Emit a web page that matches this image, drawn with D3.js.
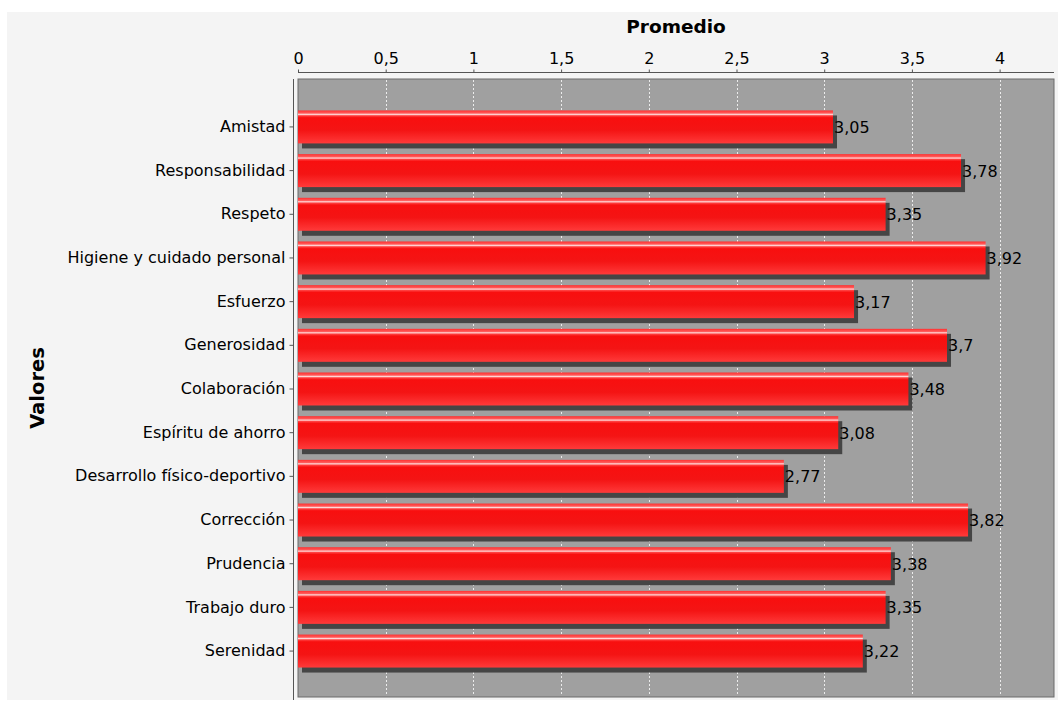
<!DOCTYPE html>
<html><head><meta charset="utf-8">
<script src="https://cdn.jsdelivr.net/npm/d3@7"></script>
<style>html,body{margin:0;padding:0;background:#fff;}</style>
</head><body>
<script>
const categories = ["Amistad","Responsabilidad","Respeto","Higiene y cuidado personal","Esfuerzo","Generosidad","Colaboración","Espíritu de ahorro","Desarrollo físico-deportivo","Corrección","Prudencia","Trabajo duro","Serenidad"];
const values = [3.05,3.78,3.35,3.92,3.17,3.7,3.48,3.08,2.77,3.82,3.38,3.35,3.22];
const labels = ["3,05","3,78","3,35","3,92","3,17","3,7","3,48","3,08","2,77","3,82","3,38","3,35","3,22"];
const xTicks = [0,0.5,1,1.5,2,2.5,3,3.5,4];
const xTickLabels = ["0","0,5","1","1,5","2","2,5","3","3,5","4"];
const xTitle = "Promedio", yTitle = "Valores";

const W = 1058, H = 702;
const plot = {left: 298, right: 1054, top: 79, bottom: 697};
const font = "Tahoma, 'DejaVu Sans', sans-serif";

const svg = d3.select("body").append("svg").attr("width", W).attr("height", H);
svg.append("rect").attr("x",7).attr("y",12).attr("width",W-7).attr("height",H-14).attr("fill","#f4f4f4");

const x = d3.scaleLinear().domain([0, 4.31]).range([plot.left, plot.right]);
const y = d3.scaleBand().domain(categories).range([plot.top, 699]).paddingInner(0.245).paddingOuter(0.72);

const defs = svg.append("defs");
const g = defs.append("linearGradient").attr("id","barGrad").attr("x1",0).attr("y1",0).attr("x2",0).attr("y2",1);
[[0,"#ff3030"],[0.08,"#ff5a5a"],[0.12,"#ffd8d8"],[0.16,"#ff4040"],[0.22,"#f80f0f"],[0.6,"#f41414"],[1,"#ff3a3a"]].forEach(([o,c])=>g.append("stop").attr("offset",o).attr("stop-color",c));

// plot background
svg.append("rect").attr("x",plot.left).attr("y",plot.top).attr("width",plot.right-plot.left).attr("height",plot.bottom-plot.top)
  .attr("fill","#a0a0a0").attr("stroke","#6a6a6a").attr("stroke-width",1);

// gridlines
svg.append("g").selectAll("line").data(xTicks.filter(d=>d>0)).join("line")
  .attr("x1",d=>Math.round(x(d))+0.5).attr("x2",d=>Math.round(x(d))+0.5)
  .attr("y1",plot.top+1).attr("y2",plot.bottom-1)
  .attr("stroke","#ffffff").attr("stroke-opacity",0.8).attr("stroke-dasharray","2,2").attr("stroke-width",1);

// shadows
svg.append("g").selectAll("rect").data(categories).join("rect")
  .attr("x", x(0)+4).attr("y", d=>y(d)+5).attr("width", (d,i)=>x(values[i])-x(0)).attr("height", y.bandwidth())
  .attr("fill","#454545");
// bars
svg.append("g").selectAll("rect").data(categories).join("rect")
  .attr("x", x(0)).attr("y", d=>y(d)).attr("width", (d,i)=>x(values[i])-x(0)).attr("height", y.bandwidth())
  .attr("fill","url(#barGrad)");

// value labels
svg.append("g").selectAll("text").data(categories).join("text")
  .attr("x",(d,i)=>x(values[i])+1).attr("y",d=>y(d)+y.bandwidth()/2+6)
  .attr("font-family",font).attr("font-size",16).attr("fill","#000")
  .text((d,i)=>labels[i]);

// x axis
const xAxis = d3.axisTop(x).tickValues(xTicks).tickFormat((d,i)=>xTickLabels[i]).tickSize(3).tickPadding(6);
const xg = svg.append("g").attr("transform",`translate(0,72.5)`).call(xAxis);
xg.select(".domain").attr("stroke","#555").attr("d",`M${plot.left},0H${plot.right}`);
xg.selectAll(".tick line").attr("stroke","#555");
xg.selectAll("text").attr("font-family",font).attr("font-size",16).attr("fill","#000");

// y axis
const yAxis = d3.axisLeft(y).tickSize(4).tickPadding(4);
const yg = svg.append("g").attr("transform",`translate(293.5,0)`).call(yAxis);
yg.select(".domain").attr("stroke","#555").attr("d",`M0,${plot.top}V${H-2}`);
yg.selectAll(".tick line").attr("stroke","#555");
yg.selectAll("text").attr("font-family",font).attr("font-size",16).attr("fill","#000");

// titles
svg.append("text").attr("x",(plot.left+plot.right)/2).attr("y",33).attr("text-anchor","middle")
  .attr("font-family",font).attr("font-size",18.5).attr("font-weight","bold").text(xTitle);
svg.append("text").attr("transform",`translate(44,${(plot.top+plot.bottom)/2}) rotate(-90)`).attr("text-anchor","middle")
  .attr("font-family",font).attr("font-size",19.5).attr("font-weight","bold").text(yTitle);
</script>
</body></html>
